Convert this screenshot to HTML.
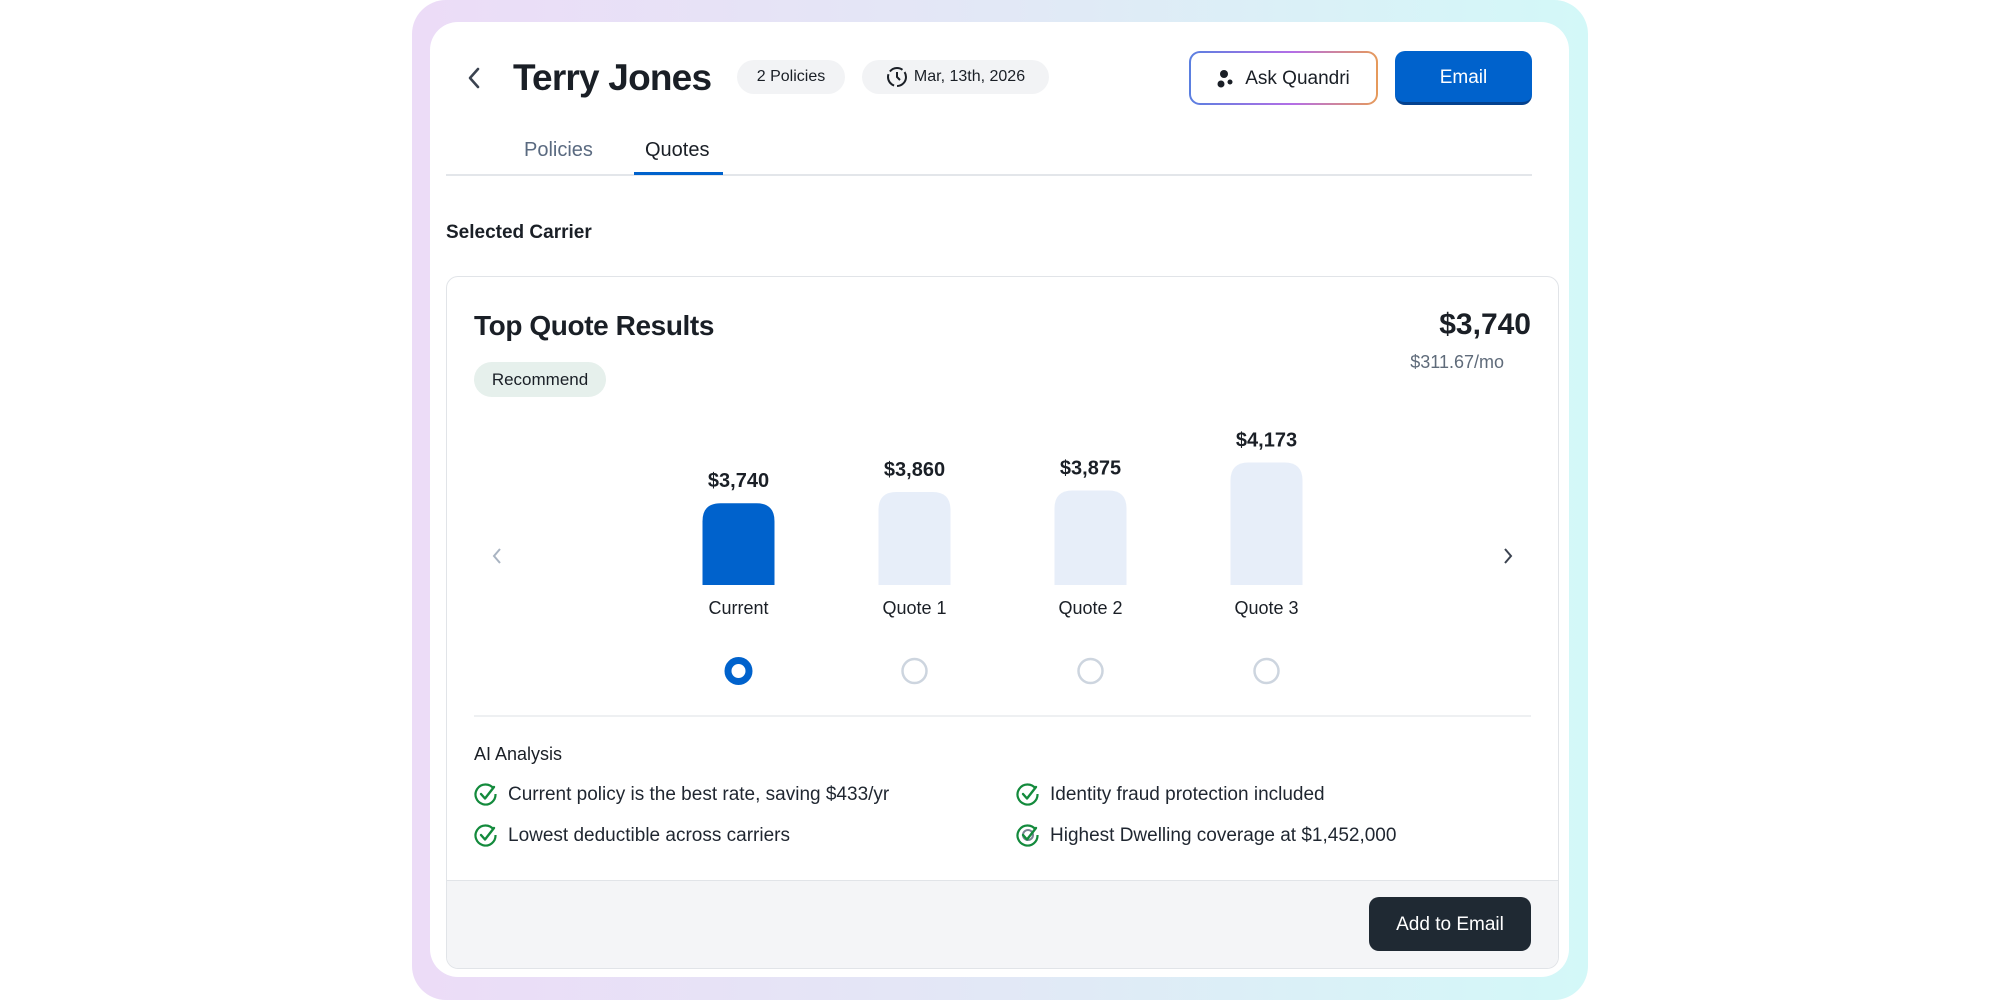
<!DOCTYPE html>
<html><head><meta charset="utf-8">
<style>
*{box-sizing:border-box;margin:0;padding:0}
body{width:2000px;height:1000px;background:#fff;font-family:"Liberation Sans",sans-serif;color:#1a1f26;position:relative;overflow:hidden}
.abs{position:absolute}
.frame{left:412px;top:0;width:1176px;height:1000px;border-radius:34px;background:linear-gradient(90deg,#ecdcf7,#e2e8f6 50%,#d3f8f8)}
.card{left:430px;top:22px;width:1139px;height:955px;border-radius:28px;background:#fff}
.pill{top:60px;height:34px;border-radius:17px;background:#f2f3f5;font-size:16px;display:flex;align-items:center;justify-content:center;gap:6px}
.item{font-size:19px;color:#1f2630;display:flex;align-items:center;gap:10px}
</style></head><body>
<div class="abs frame"></div>
<div class="abs card"></div>
<svg class="abs" style="left:464px;top:66px" width="20" height="24"><path d="M14 3 L6 12 L14 21" fill="none" stroke="#3b4350" stroke-width="2.6" stroke-linecap="round" stroke-linejoin="round"/></svg>
<div class="abs" style="left:513px;top:57px;font-size:37px;font-weight:bold;letter-spacing:-0.8px">Terry Jones</div>
<div class="abs pill" style="left:737px;width:108px">2 Policies</div>
<div class="abs pill" style="left:862px;width:187px"><svg width="22" height="22" viewBox="0 0 22 22"><circle cx="11" cy="11" r="9" fill="none" stroke="#1a1f26" stroke-width="2" stroke-dasharray="14 3"/><path d="M11 6v5l3 3" fill="none" stroke="#1a1f26" stroke-width="2"/></svg>Mar, 13th, 2026</div>
<div class="abs" style="left:1189px;top:51px;width:189px;height:54px;border-radius:11px;padding:2px;background:linear-gradient(90deg,#5a7fe0,#b46ee6 55%,#e69a5a)"><div style="width:100%;height:100%;background:#fff;border-radius:9px;display:flex;align-items:center;justify-content:center;gap:10px;font-size:19px;padding-top:2px"><svg width="18" height="20"><circle cx="7" cy="5" r="4" fill="#1a1f26"/><circle cx="4" cy="15" r="3.5" fill="#1a1f26"/><circle cx="13" cy="13" r="2.5" fill="#1a1f26"/></svg>Ask Quandri</div></div>
<div class="abs" style="left:1395px;top:51px;width:137px;height:54px;border-radius:10px;background:#0062cc;border-bottom:3px solid #04428f;color:#fff;font-size:19px;display:flex;align-items:center;justify-content:center;padding-top:3px">Email</div>
<div class="abs" style="left:446px;top:174px;width:1086px;height:2px;background:#e3e6ea"></div>
<div class="abs" style="left:524px;top:139px;font-size:20px;color:#5a6a80">Policies</div>
<div class="abs" style="left:645px;top:139px;font-size:20px;color:#1a1f26">Quotes</div>
<div class="abs" style="left:634px;top:172px;width:89px;height:3px;background:#0062cc"></div>
<div class="abs" style="left:446px;top:222px;font-size:19px;font-weight:bold">Selected Carrier</div>
<div class="abs" style="left:446px;top:276px;width:1113px;height:693px;border:1.5px solid #e1e4e8;border-radius:12px;overflow:hidden">
 <div class="abs" style="left:0;top:603px;width:100%;height:90px;background:#f4f5f7;border-top:1.5px solid #e1e4e8"></div>
</div>
<div class="abs" style="left:474px;top:310px;font-size:28px;font-weight:bold;letter-spacing:-0.4px">Top Quote Results</div>
<div class="abs" style="left:474px;top:362px;width:132px;height:35px;border-radius:18px;background:#e6f0ec;font-size:17px;display:flex;align-items:center;justify-content:center">Recommend</div>
<div class="abs" style="right:469px;top:308px;font-size:30px;font-weight:bold">$3,740</div>
<div class="abs" style="right:496px;top:352px;font-size:18px;color:#5f6b7a">$311.67/mo</div>
<svg class="abs" style="left:490px;top:546px" width="14" height="20"><path d="M10 3 L4 10 L10 17" fill="none" stroke="#a9b4c2" stroke-width="2"/></svg>
<svg class="abs" style="left:1501px;top:546px" width="14" height="20"><path d="M4 3 L10 10 L4 17" fill="none" stroke="#3b4350" stroke-width="2"/></svg>
<svg id="chart" class="abs" style="left:0;top:0" width="2000" height="1000"></svg>
<div class="abs" style="left:474px;top:715px;width:1057px;height:1.5px;background:#eef0f2"></div>
<div class="abs" style="left:474px;top:744px;font-size:18px">AI Analysis</div>
<div id="items"></div>
<div class="abs" style="left:1369px;top:897px;width:162px;height:54px;border-radius:10px;background:#1f2933;color:#fff;font-size:19px;display:flex;align-items:center;justify-content:center;padding-top:2px">Add to Email</div>
<script>
const categories=["Current","Quote 1","Quote 2","Quote 3"];
const values=[3740,3860,3875,4173];
const valueLabels=["$3,740","$3,860","$3,875","$4,173"];
const selectedIndex=0;
const NS="http://www.w3.org/2000/svg";
const svg=document.getElementById('chart');
const baseY=585,x0=738.5,step=176,bw=72,domMin=2870,k=0.094;
const xs=i=>x0+i*step;
const hs=v=>(v-domMin)*k;
function mk(t,a){const e=document.createElementNS(NS,t);for(const n in a)e.setAttribute(n,a[n]);svg.appendChild(e);return e;}
values.forEach((v,i)=>{
 const h=hs(v),x=xs(i)-bw/2,y=baseY-h,r=18;
 const p=mk('path',{d:`M${x} ${baseY} V${y+r} Q${x} ${y} ${x+r} ${y} H${x+bw-r} Q${x+bw} ${y} ${x+bw} ${y+r} V${baseY} Z`,fill:i===selectedIndex?'#0062cc':'#e7eef9'});
 
 
 const t=mk('text',{x:xs(i),y:y-16,'text-anchor':'middle','font-size':'20','font-weight':'bold',fill:'#1a1f26','font-family':'Liberation Sans'});
 t.textContent=valueLabels[i];
 
 
 const c=mk('text',{x:xs(i),y:614,'text-anchor':'middle','font-size':'18',fill:'#1a1f26','font-family':'Liberation Sans'});
 c.textContent=categories[i];
 
 
 const rd=mk('circle',{cx:xs(i),cy:671,r:i===selectedIndex?10.5:12,fill:'#fff',stroke:i===selectedIndex?'#0062cc':'#cdd5df','stroke-width':i===selectedIndex?'7':'2.5'});
 
 
});
const items=[["Current policy is the best rate, saving $433/yr",486,795],["Lowest deductible across carriers",486,836],["Identity fraud protection included",1028,795],["Highest Dwelling coverage at $1,452,000",1028,836]];
const box=document.getElementById('items');
items.forEach((it,i)=>{
 const d=document.createElement('div');
 d.className='abs item';
 d.style.left=(it[1]-12)+'px';d.style.top=(it[2]-13)+'px';
 const inner=i===3?'<circle cx="12" cy="12" r="5" fill="none" stroke="#7a8594" stroke-width="2"/>':'';
 d.innerHTML='<svg width="24" height="26" viewBox="0 0 24 26"><path d="M19.5 6.5 A10 10 0 1 0 21.5 12" fill="none" stroke="#138a3c" stroke-width="2.2"/>'+inner+'<path d="M7 12 L11 16.5 L20 5" fill="none" stroke="#138a3c" stroke-width="2.4" stroke-linecap="round" stroke-linejoin="round"/></svg><span>'+it[0]+'</span>';
 
 
 box.appendChild(d);
});
</script>
</body></html>
